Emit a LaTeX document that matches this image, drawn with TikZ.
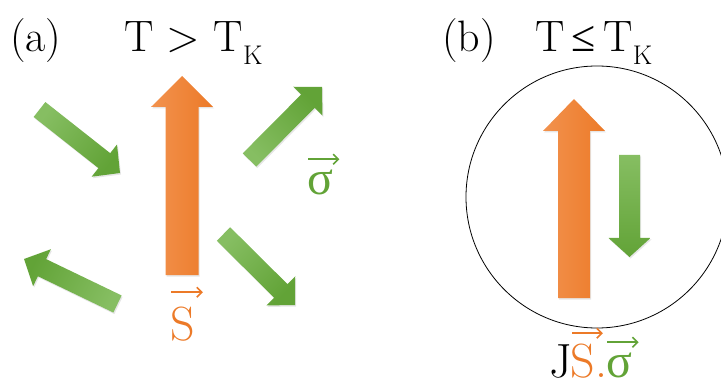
\documentclass[tikz,border=0pt]{standalone}
\usepackage{fontspec}
\newfontfamily\timesfont{Liberation Serif}
\usetikzlibrary{arrows.meta,positioning,calc,shadows}
\definecolor{kdOrange} {RGB}{236,122, 40}
\definecolor{kdOrangeL}{RGB}{242,146, 78}
\definecolor{kdGreen}  {RGB}{ 98,163, 55}
\definecolor{kdGreenL} {RGB}{134,190, 98}
\newcommand{\subK}{\raisebox{-13pt}{\fontsize{27}{30}\selectfont K}}
% block arrow from (#1-t) to (#1-h): shaft half width, head half width, head length, style
\newcommand{\spinarrow}[5]{%
  \coordinate (#1-b) at ($(#1-h)!#4!(#1-t)$);
  \shade[#5] ($(#1-t)!#2!90:(#1-h)$) -- ($(#1-b)!#2!90:(#1-h)$)
    -- ($(#1-b)!#3!90:(#1-h)$) -- (#1-h) -- ($(#1-b)!#3!-90:(#1-h)$)
    -- ($(#1-b)!#2!-90:(#1-h)$) -- ($(#1-t)!#2!-90:(#1-h)$) -- cycle;
}

\begin{document}
\begin{tikzpicture}[
  x=1pt,y=-1pt,
  title/.style={font=\fontsize{44}{50}\selectfont,inner sep=0pt},
  vlab/.style ={font=\fontsize{48}{55}\selectfont,inner sep=0pt},
  vecarr/.style={line width=1.6pt,-{Straight Barb[length=5pt,width=10pt]}},
  bigspin/.style={left color=kdOrangeL,right color=kdOrange,
                  drop shadow={opacity=0.2,shadow xshift=1pt,shadow yshift=-1.5pt}},
  smallspin/.style={top color=kdGreenL,bottom color=kdGreen,shading angle=#1,
                  drop shadow={opacity=0.2,shadow xshift=1pt,shadow yshift=-1.5pt}}
]
\useasboundingbox (0,0) rectangle (721,385);

% (a) above the Kondo temperature
\node[title,anchor=base west] (pa) at (10,52)  {(a)};
\node[title,anchor=base west] (ta) at (124,52) {T > T\subK};

\coordinate (Sa-t) at (182,275);  \coordinate (Sa-h) at (182,76);
\coordinate (s1-t) at (39.5,109.5); \coordinate (s1-h) at (120,173);
\coordinate (s2-t) at (249.5,160);  \coordinate (s2-h) at (322,87);
\coordinate (s3-t) at (117.5,304);  \coordinate (s3-h) at (24,259);
\coordinate (s4-t) at (223.5,234);  \coordinate (s4-h) at (295,305);
\spinarrow{Sa}{16.5pt}{31pt}{31pt}{bigspin}
\spinarrow{s1}{9.5pt}{20.5pt}{20pt}{smallspin=52}
\spinarrow{s2}{9.5pt}{20.5pt}{20pt}{smallspin=135}
\spinarrow{s3}{9.5pt}{20.5pt}{20pt}{smallspin=244}
\spinarrow{s4}{9.5pt}{20.5pt}{20pt}{smallspin=46}

\node[vlab,text=kdOrange,anchor=base west] (lS) at (170,340) {S};
\node[vlab,text=kdGreen,anchor=base west] (lsig) at (307,195) {\timesfont σ};
\draw[vecarr,kdOrange] ([xshift=1pt,yshift=14pt]lS.north west) -- ([xshift=8pt,yshift=14pt]lS.north east);
\draw[vecarr,kdGreen] ([xshift=1pt,yshift=11pt]lsig.north west) -- ([xshift=6pt,yshift=11pt]lsig.north east);

% (b) screened singlet
\node[title,anchor=base west] (pb) at (442,52) {(b)};
\node[title,anchor=base west] (tb) at (535,52) {T\,{\timesfont ≤}\,T\subK};

\node[draw,line width=0.8pt,circle,minimum size=262pt,inner sep=0pt] (cloud) at (597,197) {};
\coordinate (Sb-t) at (574,298);  \coordinate (Sb-h) at (574,99);
\coordinate (sb-t) at (629.5,155); \coordinate (sb-h) at (629.5,257);
\spinarrow{Sb}{16pt}{31pt}{32pt}{bigspin}
\spinarrow{sb}{10.5pt}{21pt}{19pt}{smallspin=0}

\node[vlab,anchor=base west] (lJ) at (549,377) {J};
\node[vlab,text=kdOrange,base right=-2pt of lJ] (lSb) {S};
\node[vlab,text=kdOrange,base right=0pt of lSb] (ldot) {.};
\node[vlab,text=kdGreen,base right=-1pt of ldot] (lsigb) {\timesfont σ};
\draw[vecarr,kdOrange] ([xshift=2pt,yshift=10pt]lSb.north west) -- ([xshift=8pt,yshift=10pt]lSb.north east);
\draw[vecarr,kdGreen] ([xshift=1pt,yshift=10pt]lsigb.north west) -- ([xshift=6pt,yshift=10pt]lsigb.north east);
\end{tikzpicture}
\end{document}
